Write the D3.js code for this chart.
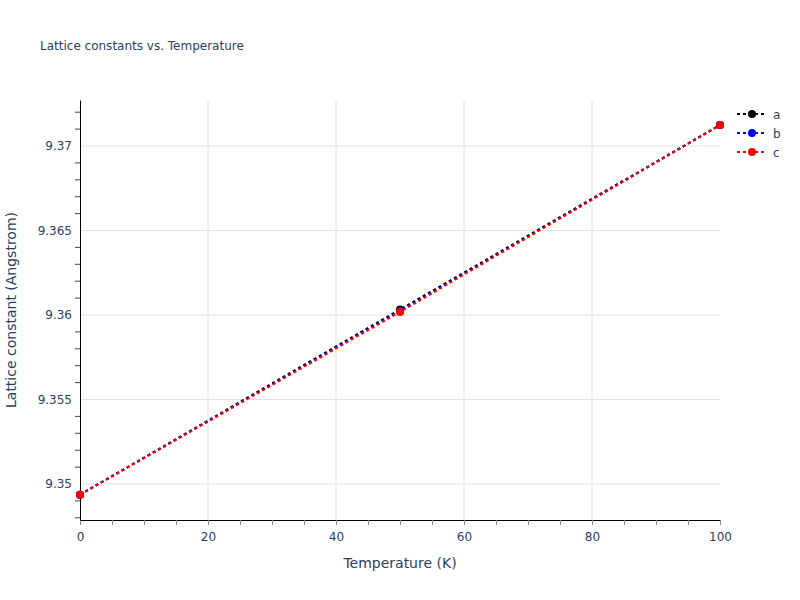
<!DOCTYPE html>
<html>
<head>
<meta charset="utf-8">
<script src="https://cdn.jsdelivr.net/npm/d3@7"></script>
<style>
  body { margin: 0; background: #fff; }
  text { font-family: "DejaVu Sans", Verdana, sans-serif; fill: #2a3f5f; }
</style>
</head>
<body>
<svg id="chart" width="800" height="600"></svg>
<script>
// data
const temperatures = [0, 50, 100];
const latticeA = [9.34937, 9.36033, 9.37124];
const latticeB = [9.34937, 9.36025, 9.37124];
const latticeC = [9.34937, 9.36018, 9.37124];
const seriesNames = ['a', 'b', 'c'];
const seriesColors = ['black', 'blue', 'red'];
const xTicks = [0, 20, 40, 60, 80, 100];
const yTicks = [9.35, 9.355, 9.36, 9.365, 9.37];

const margin = {left: 80, right: 80, top: 100, bottom: 80};
const W = 800, H = 600;

const svg = d3.select('#chart');

const x = d3.scaleLinear().domain([0, 100]).range([margin.left, W - margin.right]);
const y = d3.scaleLinear().domain([9.34787, 9.372722]).range([H - margin.bottom, margin.top]);

// grid
svg.append('g').selectAll('line')
    .data(xTicks.filter(d => d > 0 && d < 100))
    .join('line')
    .attr('x1', d => x(d)).attr('x2', d => x(d))
    .attr('y1', margin.top).attr('y2', H - margin.bottom)
    .attr('stroke', '#e2e2e2').attr('stroke-width', 1);
svg.append('g').selectAll('line')
    .data(yTicks)
    .join('line')
    .attr('x1', margin.left).attr('x2', W - margin.right)
    .attr('y1', d => y(d)).attr('y2', d => y(d))
    .attr('stroke', '#e2e2e2').attr('stroke-width', 1);

// axes
const xAxis = svg.append('g')
    .attr('transform', `translate(0,${H - margin.bottom})`)
    .call(d3.axisBottom(x).tickValues(d3.range(0, 101, 5)).tickSize(5).tickFormat(d => xTicks.includes(d) ? d : ''));
xAxis.select('.domain').attr('stroke', '#000').attr('stroke-width', 1);
xAxis.selectAll('.tick line').attr('stroke', '#888');
xAxis.selectAll('.tick text').attr('dy', '1.1em').style('font-size', '12px').attr('fill', '#2a3f5f');

const minorY = d3.range(9.348, 9.3725, 0.001).filter(v => Math.abs(Math.round(v / 0.005) * 0.005 - v) > 1e-6);
const yAxis = svg.append('g')
    .attr('transform', `translate(${margin.left},0)`)
    .call(d3.axisLeft(y).tickValues(yTicks).tickSize(0).tickPadding(8).tickFormat(d3.format('')));
yAxis.select('.domain').attr('stroke', '#000').attr('stroke-width', 1);
yAxis.selectAll('.tick text').style('font-size', '12px').attr('fill', '#2a3f5f');
yAxis.append('g').selectAll('line')
    .data(minorY)
    .join('line')
    .attr('x1', -5).attr('x2', 0)
    .attr('y1', d => y(d)).attr('y2', d => y(d))
    .attr('stroke', '#444');

// series
const allSeries = [latticeA, latticeB, latticeC];
const line = d3.line().x((d, i) => x(temperatures[i])).y(d => y(d));
allSeries.forEach((vals, k) => {
    const g = svg.append('g');
    g.append('path')
        .datum(vals)
        .attr('d', line)
        .attr('fill', 'none')
        .attr('stroke', seriesColors[k])
        .attr('stroke-width', 2)
        .attr('stroke-dasharray', '3,3');
    g.selectAll('circle')
        .data(vals)
        .join('circle')
        .attr('cx', (d, i) => x(temperatures[i]))
        .attr('cy', d => y(d))
        .attr('r', 4)
        .attr('fill', seriesColors[k]);
});

// legend
const legend = svg.append('g').attr('transform', 'translate(737,114)');
seriesNames.forEach((name, k) => {
    const item = legend.append('g').attr('transform', `translate(0,${k * 19})`);
    item.append('line')
        .attr('x1', 0).attr('x2', 30)
        .attr('stroke', seriesColors[k]).attr('stroke-width', 2)
        .attr('stroke-dasharray', '3,3');
    item.append('circle').attr('cx', 15).attr('r', 4).attr('fill', seriesColors[k]);
    item.append('text').attr('x', 36).attr('y', 4.5).style('font-size', '12px').text(name);
});

// titles
svg.append('text').attr('x', 40).attr('y', 50).style('font-size', '12px')
    .text('Lattice constants vs. Temperature');
svg.append('text').attr('x', (margin.left + W - margin.right) / 2).attr('y', 568)
    .attr('text-anchor', 'middle').style('font-size', '14px').text('Temperature (K)');
svg.append('text')
    .attr('transform', `translate(16,${(margin.top + H - margin.bottom) / 2}) rotate(-90)`)
    .attr('text-anchor', 'middle').style('font-size', '14px')
    .text('Lattice constant (Angstrom)');
</script>
</body>
</html>
